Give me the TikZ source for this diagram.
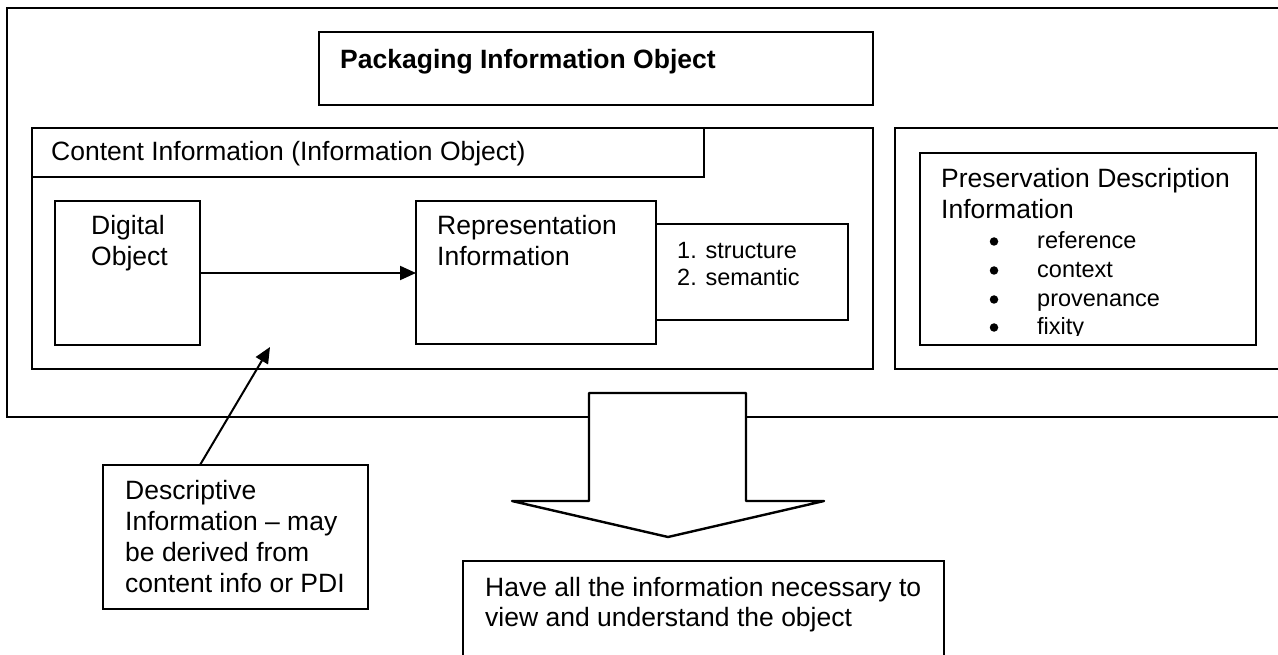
\documentclass[tikz,border=0pt]{standalone}
\usepackage{fontspec}
\setmainfont{Liberation Sans}
\usetikzlibrary{arrows.meta,calc}
\begin{document}
\begin{tikzpicture}[x=1pt,y=-1pt,
  boxs/.style={draw, line width=2.4pt, inner sep=0pt, outer sep=0pt, anchor=north west, fill=white},
  txt/.style={anchor=base west, inner sep=0pt, font=\fontsize{26.5}{30}\selectfont},
  smalltxt/.style={anchor=base west, inner sep=0pt, font=\fontsize{23.5}{27}\selectfont},
  arr/.style={line width=2pt, -{Triangle[length=16pt,width=14pt]}},
  bul/.style={circle, fill=black, inner sep=0pt, minimum size=8.5pt}]
\clip (0,0) rectangle (1278,655);
\fill[white] (0,0) rectangle (1278,655);
% boxes
\node[boxs, minimum width=1293pt, minimum height=409pt] (outer) at (7,8) {};
\node[boxs, minimum width=554pt, minimum height=73pt] (pkg) at (319,32) {};
\node[boxs, minimum width=841pt, minimum height=241pt] (content) at (32,128) {};
\node[boxs, minimum width=672pt, minimum height=49pt] (header) at (32,128) {};
\node[boxs, minimum width=145pt, minimum height=144pt] (do) at (55,201) {};
\node[boxs, minimum width=192pt, minimum height=96pt] (struct) at (656,224) {};
\node[boxs, minimum width=240pt, minimum height=143pt] (rep) at (416,201) {};
\node[boxs, minimum width=400pt, minimum height=241pt] (pdio) at (895,128) {};
\node[boxs, minimum width=336pt, minimum height=192pt] (pdi) at (920,153) {};
% big arrow
\draw[line width=2.4pt, fill=white, line join=round] (589,393) -- (746,393) -- (746,501) -- (824,501) -- (668,537) -- (512,501) -- (589,501) -- cycle;
\node[boxs, minimum width=265pt, minimum height=144pt] (desc) at (103,465) {};
\node[boxs, minimum width=481pt, minimum height=200pt] (have) at (463,561) {};
% connectors
\draw[arr] (do.east) -- (rep.west |- do.east);
\coordinate (tipD) at (270,347);
\draw[arr] ($(desc.north west)!0.366!(desc.north east)$) -- (tipD);
% texts
\node[txt, font=\fontsize{26.5}{30}\selectfont\bfseries] (tpkg) at (340,69) {Packaging Information Object};
\node[txt] (tci) at (51,161) {Content Information (Information Object)};
\node[txt] (tdo1) at (91,235) {Digital};
\node[txt] (tdo2) at (91,266) {Object};
\node[txt] (tri1) at (437,235) {Representation};
\node[txt] (tri2) at (437,266) {Information};
\node[smalltxt] (tst1) at (677,259) {1. structure};
\node[smalltxt] (tst2) at (677,286) {2. semantic};
\node[txt] (tpd1) at (941,188) {Preservation Description};
\node[txt] (tpd2) at (941,219) {Information};
\node[bul] (b1) at (994,241.5) {};
\node[bul] (b2) at (994,270.5) {};
\node[bul] (b3) at (994,299.5) {};
\node[bul] (b4) at (994,327.5) {};
\node[smalltxt] (ti1) at (1037,248.5) {reference};
\node[smalltxt] (ti2) at (1037,277.5) {context};
\node[smalltxt] (ti3) at (1037,306.5) {provenance};
\begin{scope}
\clip (1000,300) rectangle (1250,335.5);
\node[smalltxt] (ti4) at (1037,334.5) {fixity};
\end{scope}
\node[txt] (td1) at (125,499) {Descriptive};
\node[txt] (td2) at (125,530) {Information – may};
\node[txt] (td3) at (125,561) {be derived from};
\node[txt] (td4) at (125,592) {content info or PDI};
\node[txt] (th1) at (485,596) {Have all the information necessary to};
\node[txt] (th2) at (485,626) {view and understand the object};
\end{tikzpicture}
\end{document}
